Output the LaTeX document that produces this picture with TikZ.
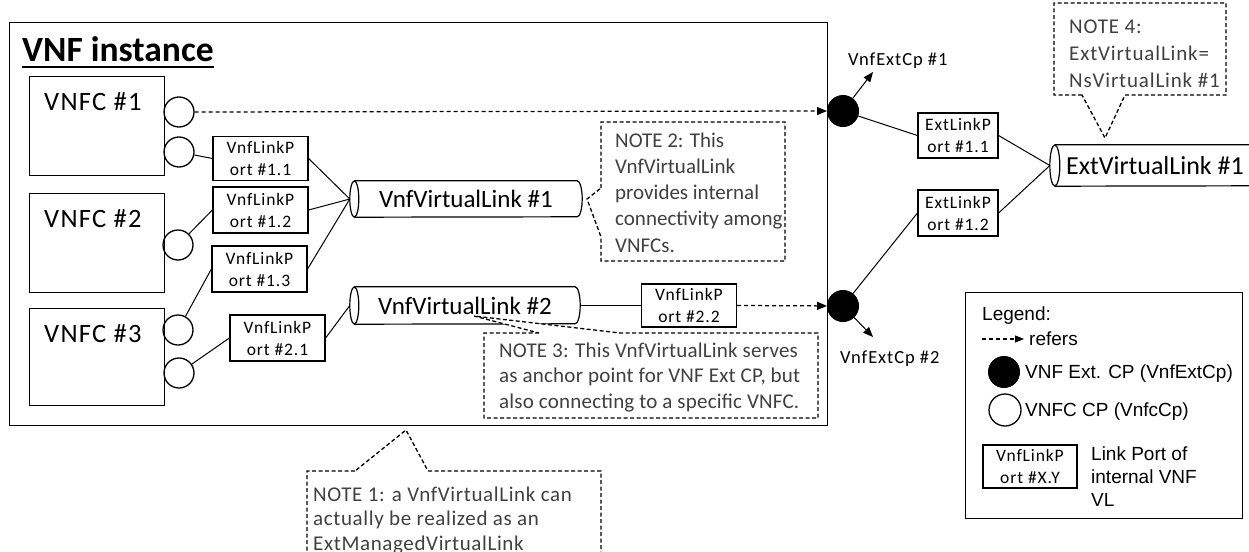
\documentclass[tikz,border=0pt]{standalone}
\usepackage{fontspec}
\setmainfont{Carlito}
\newfontfamily\arialf{Liberation Sans}
\usetikzlibrary{arrows.meta}
\definecolor{notegray}{RGB}{64,64,64}
\tikzset{
  frame/.style={draw, line width=1.4pt},
  vnfc/.style={draw, line width=1.3pt, minimum width=135pt, minimum height=99pt, inner sep=0pt},
  vnfctext/.style={inner sep=0pt, anchor=base west, font=\fontsize{26.5}{30}\selectfont\addfontfeatures{LetterSpace=5}},
  vnfccp/.style={circle, draw, line width=1.3pt, minimum size=30pt, inner sep=0pt},
  extcp/.style={circle, fill=black, draw=black, line width=1pt, minimum size=31pt, inner sep=0pt},
  lport/.style={draw, line width=1.2pt, minimum width=95pt, minimum height=44pt, inner sep=0pt, align=center, font=\fontsize{17.5}{22}\selectfont\addfontfeatures{LetterSpace=5}},
  eport/.style={lport, minimum width=80pt, minimum height=45pt},
  vltext/.style={inner sep=0pt, minimum height=36pt, font=\fontsize{25}{30}\selectfont},
  vlborder/.style={draw, line width=1.2pt},
  conn/.style={line width=1pt},
  refarrow/.style={line width=1.25pt, dash pattern=on 4pt off 3pt, -{Triangle[length=10pt,width=8pt]}},
  solarrow/.style={line width=1pt, -{Triangle[length=10pt,width=8pt]}},
  notebox/.style={draw, line width=1.3pt, dash pattern=on 4pt off 2.5pt},
  notetext/.style={inner sep=0pt, anchor=base west, align=left, text=notegray, font=\fontsize{21}{26}\selectfont},
  cplabel/.style={inner sep=0pt, anchor=base west, font=\fontsize{18.5}{22}\selectfont\addfontfeatures{LetterSpace=5}},
  legtext/.style={inner sep=0pt, anchor=base west, align=left, font=\arialf\fontsize{19}{23}\selectfont},
}
\begin{document}
\begin{tikzpicture}[x=1pt,y=-1pt]
\useasboundingbox (0,0) rectangle (1249,551);
% VNF instance frame
\node[frame, minimum width=818pt, minimum height=403pt, inner sep=0pt, anchor=north west] (vnf) at (9,22) {};
\node[inner sep=0pt, anchor=base west, font=\bfseries\fontsize{35.5}{40}\selectfont] (title) at (22,62) {VNF instance};
\draw[line width=2pt] ([yshift=-4.5pt]title.base west) -- ([yshift=-4.5pt]title.base east);

% VNFCs
\node[vnfc, anchor=north west] (V1) at (29,76) {};
\node[vnfctext] (V1t) at (44,110) {VNFC \#1};
\node[vnfc, anchor=north west] (V2) at (29,193) {};
\node[vnfctext] (V2t) at (44,227) {VNFC \#2};
\node[vnfc, anchor=north west, minimum height=97pt] (V3) at (29,308) {};
\node[vnfctext] (V3t) at (44,342) {VNFC \#3};

% VNFC CPs
\node[vnfccp] (C1a) at (179,112) {};
\node[vnfccp] (C1b) at (179,152) {};
\node[vnfccp] (C2) at (178,245) {};
\node[vnfccp] (C3a) at (178,330) {};
\node[vnfccp] (C3b) at (179,373) {};

% Vnf link ports
\node[lport] (LP11) at (260.5,158.5) {VnfLinkP\\ort \#1.1};
\node[lport, minimum height=46pt] (LP12) at (260.5,210) {VnfLinkP\\ort \#1.2};
\node[lport, minimum height=46pt] (LP13) at (259.5,269) {VnfLinkP\\ort \#1.3};
\node[lport, minimum height=46pt] (LP21) at (277.5,338) {VnfLinkP\\ort \#2.1};
\node[lport, minimum height=43pt] (LP22) at (689,305.5) {VnfLinkP\\ort \#2.2};

% Virtual links
\node[vltext, minimum width=232pt] (VL1) at (466,199) {VnfVirtualLink \#1};
\draw[vlborder] ([xshift=4.5pt]VL1.north west) -- ([xshift=-5pt]VL1.north east)
  arc[start angle=90, end angle=-90, x radius=5pt, y radius=18pt]
  -- ([xshift=4.5pt]VL1.south west);
\draw[vlborder] ([xshift=4.5pt]VL1.west) ellipse[x radius=4.5pt, y radius=18pt];

\node[vltext, minimum width=230pt, minimum height=37pt] (VL2) at (465,305.5) {VnfVirtualLink \#2};
\draw[vlborder] ([xshift=4.5pt]VL2.north west) -- ([xshift=-5pt]VL2.north east)
  arc[start angle=90, end angle=-90, x radius=5pt, y radius=18.5pt]
  -- ([xshift=4.5pt]VL2.south west);
\draw[vlborder] ([xshift=4.5pt]VL2.west) ellipse[x radius=4.5pt, y radius=18.5pt];

% External CPs
\node[extcp] (CP1) at (843,111) {};
\node[extcp] (CP2) at (843,306) {};
\coordinate (CP1tip) at (873,72);
\coordinate (CP2tip) at (873,337);
\node[cplabel] (CP1l) at (848,65) {VnfExtCp \#1};
\node[cplabel] (CP2l) at (840,363) {VnfExtCp \#2};

% External link ports
\node[eport] (ELP11) at (958,135.5) {ExtLinkP\\ort \#1.1};
\node[eport, minimum height=46pt] (ELP12) at (958,213) {ExtLinkP\\ort \#1.2};

% External virtual link
\node[vltext, minimum width=210pt, minimum height=41pt, font=\fontsize{26}{30}\selectfont] (EVL) at (1155,165.5) {ExtVirtualLink \#1};
\draw[vlborder] ([xshift=5pt]EVL.north west) -- ([xshift=-5pt]EVL.north east)
  arc[start angle=90, end angle=-90, x radius=5pt, y radius=20.5pt]
  -- ([xshift=5pt]EVL.south west);
\draw[vlborder] ([xshift=5pt]EVL.west) ellipse[x radius=5pt, y radius=20.5pt];

% Connectors
\draw[refarrow] (C1a) -- (CP1);
\draw[conn] (C1b) -- (LP11.west);
\draw[conn] (C2) -- (LP12.west);
\draw[conn] (C3a) -- (LP13.west);
\draw[conn] (C3b) -- (LP21.west);
\draw[conn] (LP11.east) -- (VL1.west);
\draw[conn] (LP12.east) -- (VL1.west);
\draw[conn] (LP13.east) -- (VL1.west);
\draw[conn] (LP21.east) -- (VL2.west);
\draw[conn] (VL2.east) -- (LP22.west);
\draw[refarrow] (LP22.east) -- (CP2);
\draw[solarrow] (CP1) -- (CP1tip);
\draw[solarrow] (CP2) -- (CP2tip);
\draw[conn] (CP1) -- (ELP11.west);
\draw[conn] (CP2) -- (ELP12.west);
\draw[conn] (ELP11.east) -- (EVL.west);
\draw[conn] (ELP12.east) -- (EVL.west);

% NOTE 2
\draw[notebox, fill=white] (601,188) -- (601,122) -- (785,122) -- (785,261) -- (601,261) -- (601,237) -- (587,199) -- cycle;
\node[notetext, font=\fontsize{21}{26.25}\selectfont] (N2) at (615,252) {NOTE 2: This\\VnfVirtualLink\\provides internal\\connectivity among\\VNFCs.};
% NOTE 3
\draw[notebox, fill=white] (539,333) -- (484,333) -- (484,418) -- (818,418) -- (818,333) -- (620,333) -- (474,316) -- cycle;
\node[notetext, font=\fontsize{21}{25.5}\selectfont\addfontfeatures{LetterSpace=1}] (N3) at (499,408) {NOTE 3: This VnfVirtualLink serves\\as anchor point for VNF Ext CP, but\\also connecting to a specific VNFC.};
% NOTE 1
\draw[notebox] (355,471) -- (307,471) -- (307,560) -- (601,560) -- (601,471) -- (428,471) -- (406,430) -- cycle;
\node[notetext, font=\fontsize{21}{24.5}\selectfont\addfontfeatures{LetterSpace=3}] (N1) at (313,550) {NOTE 1: a VnfVirtualLink can\\actually be realized as an\\ExtManagedVirtualLink};
% NOTE 4
\draw[notebox] (1082,95) -- (1054,95) -- (1054,3) -- (1226,3) -- (1226,95) -- (1125,95) -- (1105,138) -- cycle;
\node[notetext, font=\fontsize{21}{27}\selectfont\addfontfeatures{LetterSpace=4}] (N4) at (1069,87) {NOTE 4:\\ExtVirtualLink=\\NsVirtualLink \#1};

% Legend
\node[draw, line width=1pt, minimum width=277pt, minimum height=226pt, inner sep=0pt, anchor=north west] (leg) at (965,292) {};
\node[legtext] (legT) at (982,320) {Legend:};
\coordinate (la1) at (982,339);
\coordinate (la2) at (1024,339);
\draw[line width=1.1pt, dash pattern=on 4pt off 3pt, -{Triangle[length=9pt,width=7pt]}] (la1) -- (la2);
\node[legtext] (legR) at (1029,345) {refers};
\node[extcp] (legCP) at (1004,372) {};
\node[legtext] (legCPt) at (1025,378) {VNF Ext. CP (VnfExtCp)};
\node[vnfccp, minimum size=32pt] (legC) at (1005,410) {};
\node[legtext] (legCt) at (1025,416) {VNFC CP (VnfcCp)};
\node[lport, minimum width=94pt, minimum height=43pt] (legLP) at (1030,466.5) {VnfLinkP\\ort \#X.Y};
\node[legtext] (legLPt) at (1091,506) {Link Port of\\internal VNF\\VL};
\end{tikzpicture}
\end{document}
